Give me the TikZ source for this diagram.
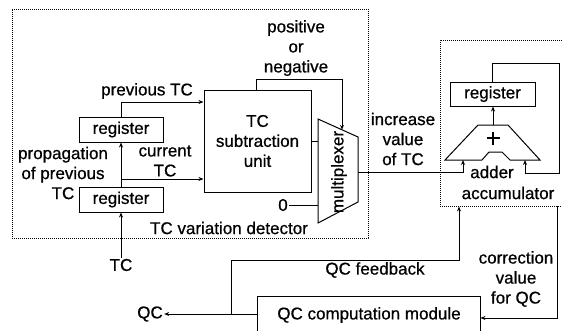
\documentclass[tikz,border=0pt]{standalone}
\usepackage{fontspec}
\setmainfont{Liberation Sans}[BoldFont=Liberation Sans, BoldFeatures={FakeBold=0.7}]
\usetikzlibrary{arrows.meta,calc}
\begin{document}
\begin{tikzpicture}[x=1pt,y=-1pt,
  font=\fontsize{17}{20}\selectfont\bfseries,
  line width=0.9pt,
  >={Stealth[length=5pt,width=4pt]},
  blk/.style={draw,line width=1pt,inner sep=0pt},
  frame/.style={draw,line width=0.9pt,dash pattern=on 0.6pt off 1.4pt,inner sep=0pt},
  lbl/.style={inner sep=1pt,align=center},
  wire/.style={line width=0.9pt}]
\useasboundingbox (0,0) rectangle (562,330);

% frames
\node[frame,minimum width=356,minimum height=229] (det) at (190,123.5) {};
\node[frame,minimum width=123,minimum height=166] (acc) at (501.5,123) {};

% blocks
\node[blk,minimum width=84,minimum height=25] (regt) at (121,129.5) {register};
\node[blk,minimum width=84,minimum height=25] (regb) at (121,199.5) {register};
\node[blk,minimum width=107,minimum height=102,align=center] (sub) at (257.5,141) {TC\\subtraction\\unit};
\node[blk,minimum width=85,minimum height=24] (accreg) at (492.5,94) {register};
\node[inner sep=0pt,minimum width=222,minimum height=36] (qcm) at (369,315) {QC computation module};
\draw[line width=1pt] (qcm.south west) |- (qcm.north east) -- (qcm.south east);

% multiplexer
\coordinate (m1) at (318,119);
\coordinate (m2) at (358,137);
\coordinate (m3) at (358,202);
\coordinate (m4) at (318,223);
\draw[line width=1pt] (m1) -- (m2) -- (m3) -- (m4) -- cycle;
\node[rotate=90,inner sep=0pt] (muxlbl) at (339,172) {multiplexer};
\coordinate (mtop) at ($(m1)!0.6!(m2)$);

% adder
\coordinate (a1) at (445,160);
\coordinate (a2) at (478,125);
\coordinate (a3) at (508,125);
\coordinate (a4) at (540,160);
\draw[line width=1pt] (a1) -- (a2) -- (a3) -- (a4) -- (510,160) -- (502,152) -- (489,152) -- (482,160) -- cycle;
\draw[line width=2.2pt] (486.5,138) -- (499.5,138) (493,131.5) -- (493,144.5);
\coordinate (addtop) at (493,125);
\coordinate (addl) at (463,160);
\coordinate (addr) at (525,160);

% labels
\node[lbl] (tcin) at (121,265) {TC};
\node[lbl] (prevlbl) at (147,91) {previous TC};
\node[lbl] (proplbl) at (63,173) {propagation\\of previous\\TC};
\node[lbl] (curlbl) at (165,161) {current\\TC};
\node[lbl] (poslbl) at (296,48) {positive\\or\\negative};
\node[lbl] (zero) at (283,205) {0};
\node[lbl] (detlbl) at (229,228) {TC variation detector};
\node[lbl] (inclbl) at (403,139) {increase\\value\\of TC};
\node[lbl] (adderlbl) at (492,172) {adder};
\node[lbl] (acclbl) at (508,193) {accumulator};
\node[lbl] (fblbl) at (375,270) {QC feedback};
\node[lbl] (corlbl) at (516,279) {correction\\value\\for QC};
\node[lbl] (qcout) at (150,314) {QC};

% connectors
\draw[wire,->] (tcin.north) -- (regb.south);
\draw[wire,->] (regb.north) -- (regt.south);
\coordinate (c1) at (121,179);
\draw[wire,->] (c1) -- (c1 -| sub.west);
\coordinate (p1) at (121,102);
\draw[wire,->] (regt.north) -- (p1) -- (p1 -| sub.west);
\coordinate (s1) at (256,79);
\draw[wire,->] (s1 |- sub.north) -- (s1) -| (mtop);
\draw[wire] (sub.east) -- (sub.east -| m1);
\draw[wire] (zero.east) -- (zero.east -| m1);
\coordinate (muxout) at (358,172);
\draw[wire,->] (muxout) -| (addl);
\draw[wire,->] (addtop) -- (addtop |- accreg.south);
\draw[wire,->] (accreg.north) -- ++(0,-18) -| (559,173) -| (addr);
\coordinate (qcj) at (231,314);
\coordinate (fb) at (459,260);
\draw[wire,->] (qcm.west |- qcj) -- (qcout.east);
\draw[wire,->] (qcj) |- (fb) -- (fb |- acc.south);
\coordinate (cr) at (557,318);
\draw[wire,->] (cr |- acc.south) -- (cr) -- (cr -| qcm.east);
\end{tikzpicture}
\end{document}
